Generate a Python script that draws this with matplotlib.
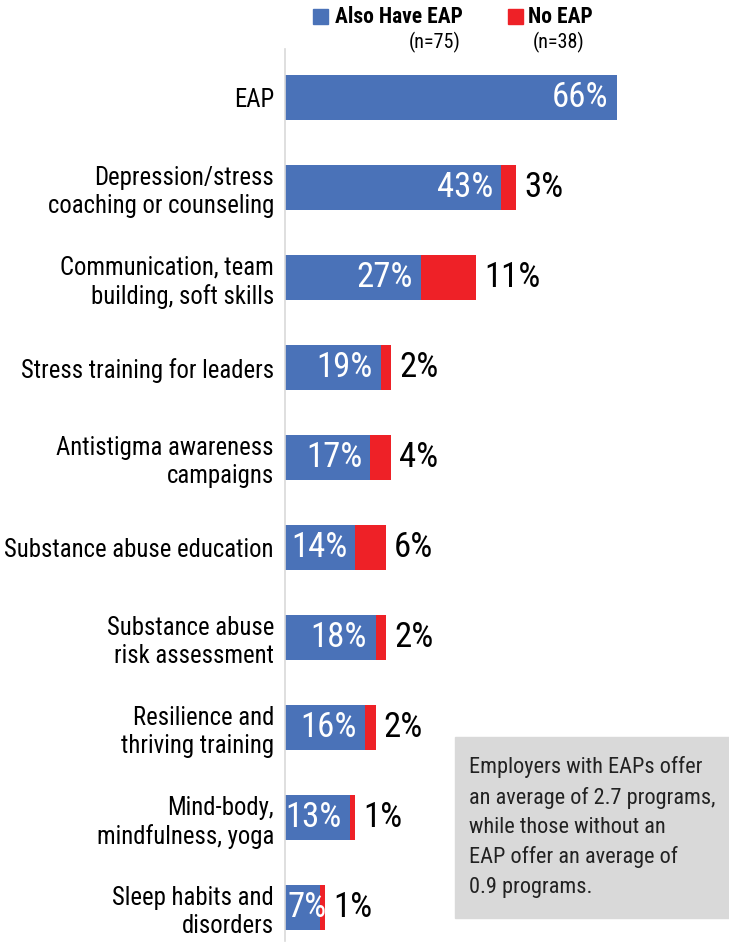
import matplotlib
matplotlib.use("Agg")
import matplotlib.pyplot as plt
from matplotlib import font_manager as fm
from matplotlib.patches import Rectangle

categories = [
    "EAP",
    "Depression/stress\ncoaching or counseling",
    "Communication, team\nbuilding, soft skills",
    "Stress training for leaders",
    "Antistigma awareness\ncampaigns",
    "Substance abuse education",
    "Substance abuse\nrisk assessment",
    "Resilience and\nthriving training",
    "Mind-body,\nmindfulness, yoga",
    "Sleep habits and\ndisorders",
]
also_have_eap = [66, 43, 27, 19, 17, 14, 18, 16, 13, 7]
no_eap = [None, 3, 11, 2, 4, 6, 2, 2, 1, 1]
legend_labels = ["Also Have EAP", "No EAP"]
legend_n = ["(n=75)", "(n=38)"]
note_text = ("Employers with EAPs offer\nan average of 2.7 programs,\n"
             "while those without an\nEAP offer an average of\n0.9 programs.")

names = {f.name for f in fm.fontManager.ttflist}
font = "DejaVu Sans"
for cand in ["Liberation Sans Narrow", "Roboto Condensed", "Open Sans Condensed",
             "Arial Narrow", "Liberation Sans", "Roboto"]:
    if cand in names:
        font = cand
        break
plt.rcParams["font.family"] = [font, "DejaVu Sans"]

BLUE = "#4A72B8"
RED = "#EE2127"

W, H = 729, 948
fig = plt.figure(figsize=(W / 100, H / 100), dpi=100)
ax_left, ax_right = 285 / W, 1.0
ax_top, ax_bot = 49 / H, 941 / H
ax = fig.add_axes([ax_left, 1 - ax_bot, ax_right - ax_left, ax_bot - ax_top])

y = list(range(len(categories)))
red_vals = [v if v is not None else 0 for v in no_eap]
ax.barh(y, also_have_eap, height=0.5, color=BLUE, edgecolor="none")
ax.barh(y, red_vals, left=also_have_eap, height=0.5, color=RED, edgecolor="none")

ax.set_xlim(0, 88.3)
ax.set_ylim(len(categories) - 1 + 0.37, -0.54)

for i, (b, r) in enumerate(zip(also_have_eap, no_eap)):
    if b >= 10:
        ax.annotate(f"{b}%", (b, i), xytext=(-6, 0), textcoords="offset points",
                    ha="right", va="center", color="white", fontsize=25,
                    annotation_clip=False)
    else:
        ax.annotate(f"{b}%", (0, i), xytext=(1.5, 0), textcoords="offset points",
                    ha="left", va="center", color="white", fontsize=25,
                    annotation_clip=False)
    if r is not None:
        ax.annotate(f"{r}%", (b + r, i), xytext=(6, 0), textcoords="offset points",
                    ha="left", va="center", color="black", fontsize=25)

ax.set_yticks(y)
ax.set_yticklabels(categories, fontsize=17.8, linespacing=1.22)
ax.tick_params(axis="y", length=0, pad=8)
ax.set_xticks([])
for s in ["top", "right", "bottom"]:
    ax.spines[s].set_visible(False)
ax.spines["left"].set_color("#d9d9d9")
ax.spines["left"].set_linewidth(1.2)

# legend
def px(x, yy):
    return x / W, 1 - yy / H

fig.patches.append(Rectangle(px(313, 24), 15 / W, 15 / H, transform=fig.transFigure,
                             color=BLUE, figure=fig))
fig.text(*px(335, 17), legend_labels[0], fontsize=15.5, fontweight="bold",
         ha="left", va="center")
fig.text(*px(461, 42), legend_n[0], fontsize=14.5, ha="right", va="center")
fig.patches.append(Rectangle(px(508, 24), 15 / W, 15 / H, transform=fig.transFigure,
                             color=RED, figure=fig))
fig.text(*px(528, 17), legend_labels[1], fontsize=15.5, fontweight="bold",
         ha="left", va="center")
fig.text(*px(585, 42), legend_n[1], fontsize=14.5, ha="right", va="center")

# note box
fig.patches.append(Rectangle(px(455, 918), (W - 455) / W, (918 - 737) / H,
                             transform=fig.transFigure, color="#D9D9D9",
                             figure=fig, zorder=5))
fig.text(*px(469, 827), note_text, fontsize=16, ha="left", va="center",
         linespacing=1.5, color="#222222", zorder=6)

fig.savefig("out.png", dpi=100)
